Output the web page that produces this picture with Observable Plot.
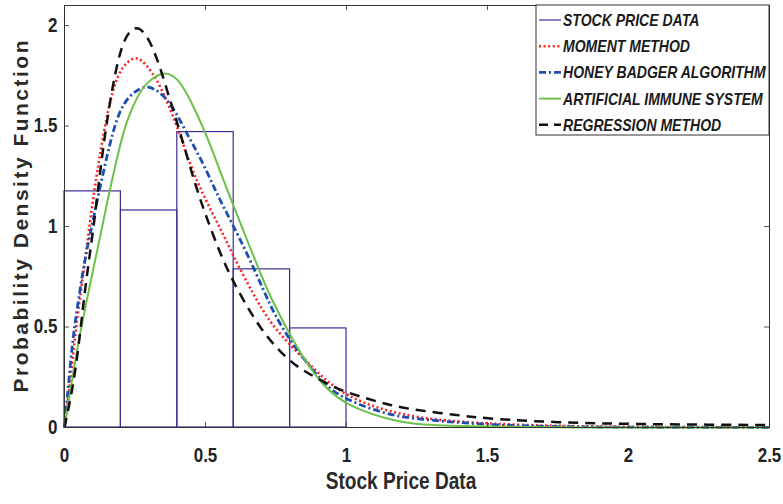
<!DOCTYPE html>
<html><head><meta charset="utf-8">
<script src="https://cdn.jsdelivr.net/npm/d3@7"></script>
<script src="https://cdn.jsdelivr.net/npm/@observablehq/plot@0.6"></script>
<style>body{margin:0;background:#fff}</style>
</head><body><div id="chart"></div>
<script>
// ---- data ----
const binEdges   = [0, 0.2, 0.4, 0.6, 0.8, 1.0];
const binDensity = [1.175, 1.08, 1.47, 0.787, 0.493];

const momentX = [0,0.02,0.035,0.05,0.07,0.09,0.11,0.134,0.163,0.19,0.222,0.258,0.293,0.329,0.364,0.394,0.447,0.494,0.553,0.6,0.67,0.73,0.8,0.872,0.93,1.0,1.1,1.2,1.3,1.5,1.75,2.0,2.5];
const momentY = [0,0.22,0.42,0.6,0.8,1.02,1.22,1.43,1.64,1.76,1.82,1.85,1.80,1.73,1.62,1.52,1.30,1.15,0.99,0.85,0.66,0.52,0.41,0.31,0.23,0.16,0.10,0.065,0.04,0.018,0.007,0.003,0.001];

const hbaX = [0,0.01,0.021,0.033,0.05,0.07,0.092,0.122,0.163,0.193,0.228,0.27,0.295,0.34,0.376,0.41,0.435,0.494,0.541,0.589,0.648,0.707,0.742,0.8,0.872,0.93,1.0,1.085,1.167,1.24,1.5,1.75,2.0,2.5];
const hbaY = [0,0.15,0.32,0.48,0.64,0.82,0.97,1.17,1.43,1.57,1.65,1.69,1.70,1.67,1.61,1.53,1.46,1.31,1.16,1.03,0.865,0.68,0.57,0.43,0.30,0.20,0.14,0.093,0.06,0.043,0.012,0.004,0.001,0];

const aisX = [0,0.045,0.09,0.134,0.157,0.199,0.222,0.258,0.293,0.35,0.40,0.447,0.5,0.553,0.6,0.648,0.7,0.73,0.8,0.872,0.93,1.0,1.085,1.167,1.24,1.3,1.5,1.75,2.0,2.5];
const aisY = [0,0.40,0.71,1.0,1.16,1.42,1.53,1.65,1.72,1.775,1.745,1.63,1.47,1.27,1.10,0.93,0.75,0.65,0.458,0.29,0.19,0.115,0.068,0.035,0.018,0.012,0.004,0.001,0,0];

const regX = [0,0.03,0.05,0.075,0.104,0.128,0.155,0.18,0.21,0.255,0.3,0.34,0.376,0.41,0.465,0.5,0.553,0.6,0.66,0.713,0.766,0.825,0.89,0.967,1.07,1.156,1.24,1.4,1.5,1.66,1.84,2.0,2.2,2.5];
const regY = [0,0.2,0.4,0.72,1.0,1.3,1.57,1.77,1.94,2.01,1.94,1.79,1.62,1.47,1.2,1.06,0.86,0.72,0.57,0.46,0.375,0.30,0.25,0.19,0.145,0.11,0.088,0.06,0.045,0.031,0.022,0.018,0.015,0.012];

const xTicks = [0, 0.5, 1, 1.5, 2, 2.5];
const xTickLabels = ["0", "0.5", "1", "1.5", "2", "2.5"];
const yTicks = [0, 0.5, 1, 1.5, 2];
const yTickLabels = ["0", "0.5", "1", "1.5", "2"];
const legendNames = ["STOCK PRICE DATA", "MOMENT METHOD", "HONEY BADGER ALGORITHM", "ARTIFICIAL IMMUNE SYSTEM", "REGRESSION METHOD"];
const xLabel = "Stock Price Data";
const yLabel = "Probability Density Function";

// ---- build tables ----
const bins = binDensity.map((d, i) => ({x1: binEdges[i], x2: binEdges[i + 1], y: d}));
const pts = (xs, ys) => xs.map((x, i) => ({x, y: ys[i]}));

const styles = [
  {stroke: "#3d2b96", width: 1.2, dash: null},
  {stroke: "#ff1f1f", width: 2.6, dash: "2,2.6"},
  {stroke: "#1d4fae", width: 2.8, dash: "7,3,2,3"},
  {stroke: "#6cc04a", width: 2.0, dash: null},
  {stroke: "#111111", width: 2.5, dash: "10,7"}
];
const curves = [pts(momentX, momentY), pts(hbaX, hbaY), pts(aisX, aisY), pts(regX, regY)];

const W = 783, H = 504, mL = 64, mR = 14, mT = 5, mB = 77;
const font = "'Liberation Sans', Arial, sans-serif";

const plot = Plot.plot({
  width: W, height: H,
  marginLeft: mL, marginRight: mR, marginTop: mT, marginBottom: mB,
  x: {domain: [0, 2.5]},
  y: {domain: [0, 2.1]},
  style: {fontFamily: font, background: "#fff", color: "#222"},
  marks: [
    Plot.rectY(bins, {x1: "x1", x2: "x2", y: "y", fill: "none", stroke: styles[0].stroke, strokeWidth: styles[0].width}),
    ...curves.map((c, i) => Plot.line(c, {
      x: "x", y: "y", curve: "basis",
      stroke: styles[i + 1].stroke, strokeWidth: styles[i + 1].width,
      strokeDasharray: styles[i + 1].dash, strokeLinecap: "butt"
    })),
    Plot.ruleX(xTicks, {x: d => d, y1: 0, y2: 0, insetBottom: 5, stroke: "#555"}),
    Plot.ruleX(xTicks, {x: d => d, y1: 2.1, y2: 2.1, insetTop: 5, stroke: "#555"}),
    Plot.ruleY(yTicks, {y: d => d, x1: 0, x2: 0, insetLeft: 5, stroke: "#555"}),
    Plot.ruleY(yTicks, {y: d => d, x1: 2.5, x2: 2.5, insetRight: 5, stroke: "#555"}),
    Plot.frame({stroke: "#333"}),
    Plot.axisX({ticks: xTicks, tickSize: 0, tickPadding: 20, fontSize: 20, fontWeight: "bold",
      tickFormat: d => xTickLabels[xTicks.indexOf(d)], label: null, fill: "#222"}),
    Plot.axisY({ticks: yTicks, tickSize: 0, tickPadding: 7, fontSize: 20, fontWeight: "bold",
      tickFormat: d => yTickLabels[yTicks.indexOf(d)], label: null, fill: "#222"}),
    Plot.text([xLabel], {frameAnchor: "bottom", dx: -16, dy: 61.5, fontSize: 23, fontWeight: "bold", fill: "#2a2a2a", text: d => d}),
    Plot.text([yLabel], {frameAnchor: "left", rotate: -90, dx: -43, fontSize: 21, fontWeight: "bold", fill: "#2a2a2a", text: d => d})
  ]
});
document.getElementById("chart").append(plot);

const svg = d3.select(plot);
// condense tick labels and x label (reference uses a condensed bold face)
svg.selectAll("g[aria-label='x-axis tick label'] text, g[aria-label='y-axis tick label'] text").each(function() {
  const L = this.getComputedTextLength();
  d3.select(this).attr("textLength", L * 0.85).attr("lengthAdjust", "spacingAndGlyphs");
});
svg.selectAll("g[aria-label='text'] text").each(function() {
  const t = this.textContent;
  const L = this.getComputedTextLength();
  if (t === xLabel) d3.select(this).attr("textLength", L * 0.83).attr("lengthAdjust", "spacingAndGlyphs");
  if (t === yLabel) {
    const span = 352;
    d3.select(this).attr("text-anchor", "start").attr("x", -span / 2)
      .attr("textLength", span).attr("lengthAdjust", "spacing");
  }
});

// legend (inside the frame, top right)
const lw = 233, lh = 130;
const lx = W - mR - lw, ly = mT;
const lg = svg.append("g").attr("font-family", font).attr("text-anchor", "start");
lg.append("rect").attr("x", lx).attr("y", ly).attr("width", lw).attr("height", lh)
  .attr("fill", "#fff").attr("stroke", "#333").attr("stroke-width", 1);
legendNames.forEach((name, i) => {
  const cy = ly + 15 + i * 26.2;
  const s = styles[i];
  lg.append("line").attr("x1", lx + 3).attr("x2", lx + 25).attr("y1", cy).attr("y2", cy)
    .attr("stroke", s.stroke).attr("stroke-width", i === 0 ? 1.2 : s.width)
    .attr("stroke-dasharray", i === 4 ? "9,6" : s.dash);
  const t = lg.append("text").attr("x", lx + 27).attr("y", cy + 6).attr("text-anchor", "start")
    .attr("font-size", 16.5).attr("font-weight", "bold").attr("font-style", "italic")
    .attr("fill", "#1a1a1a").text(name);
  const L = t.node().getComputedTextLength();
  t.attr("textLength", L * 0.85).attr("lengthAdjust", "spacingAndGlyphs");
});
</script>
</body></html>
